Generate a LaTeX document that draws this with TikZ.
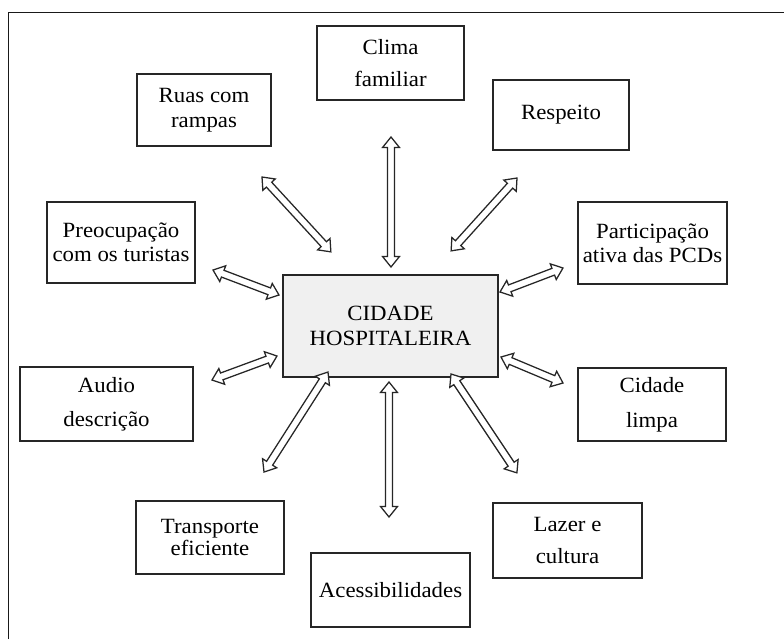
\documentclass[tikz,border=0pt]{standalone}
\usepackage{fontspec}
\setmainfont{Liberation Serif}[FakeStretch=1.05]
\usetikzlibrary{calc}
\tikzset{
  box/.style 2 args={draw=black!85, line width=1.1pt, align=center, inner sep=0pt,
    minimum width=#1*0.75pt, minimum height=#2*0.75pt,
    font=\fontsize{16.3}{19}\selectfont},
  dblarrow/.style={draw=black!85, line width=0.95pt, fill=white, line join=miter,
    to path={
      let \p1=(\tikztostart), \p2=(\tikztotarget),
          \n1={atan2(\y2-\y1,\x2-\x1)}, \n2={veclen(\x2-\x1,\y2-\y1)}
      in {[shift={(\p1)}, rotate=\n1]
        (0pt,0pt) -- (7.8pt,6.3pt) -- (7.8pt,2.7pt) -- ({\n2*1pt-7.8pt},2.7pt)
        -- ({\n2*1pt-7.8pt},6.3pt) -- ({\n2*1pt},0pt) -- ({\n2*1pt-7.8pt},-6.3pt)
        -- ({\n2*1pt-7.8pt},-2.7pt) -- (7.8pt,-2.7pt) -- (7.8pt,-6.3pt) -- cycle}
    }}
}
\begin{document}
\begin{tikzpicture}[x=0.75pt,y=-0.75pt]
\useasboundingbox (0,0) rectangle (784,639);
% outer frame (only left and top visible)
\draw[line width=1.2pt, black!90] (8.5,639) -- (8.5,12.5) -- (784,12.5);

\node[box={147}{74}] (clima) at (390.5,63) {Clima\\[4.5pt]familiar};
\node[box={134}{72}] (ruas) at (204,110) {Ruas com\\rampas};
\node[box={136}{70}] (resp) at (561,115) {Respeito};
\node[box={148}{81}] (preoc) at (121,242.5) {Preocupação\\[-1pt]com os turistas};
\node[box={149}{82}] (partic) at (652.5,243) {Participação\\[-1pt]ativa das PCDs};
\node[box={215}{102}, fill=black!6] (centro) at (390.5,326) {CIDADE\\HOSPITALEIRA};
\node[box={173}{74}] (audio) at (106.5,404) {Audio\\[6.5pt]descrição};
\node[box={148}{73}] (limpa) at (652,404.5) {Cidade\\[7.5pt]limpa};
\node[box={148}{73}] (transp) at (210,537.5) {Transporte\\[-2pt]eficiente};
\node[box={159}{74}] (acess) at (390.5,590) {Acessibilidades};
\node[box={149}{75}] (lazer) at (567.5,540.5) {Lazer e\\[4.5pt]cultura};

% arrow end points
\coordinate (a1s) at (391,137);  \coordinate (a1e) at (391,267);
\coordinate (a2s) at (262,177);  \coordinate (a2e) at (331,252);
\coordinate (a3s) at (517,178);  \coordinate (a3e) at (451,251);
\coordinate (a4s) at (213,270);  \coordinate (a4e) at (279,295);
\coordinate (a5s) at (500,292);  \coordinate (a5e) at (563,268);
\coordinate (a6s) at (212,380);  \coordinate (a6e) at (277,356);
\coordinate (a7s) at (501,357);  \coordinate (a7e) at (563,383);
\coordinate (a8s) at (264,472);  \coordinate (a8e) at (328,372);
\coordinate (a9s) at (389,382);  \coordinate (a9e) at (389,517);
\coordinate (a10s) at (451,374); \coordinate (a10e) at (517,473);

\foreach \i in {1,...,10} {\draw[dblarrow] (a\i s) to (a\i e);}
\end{tikzpicture}
\end{document}
